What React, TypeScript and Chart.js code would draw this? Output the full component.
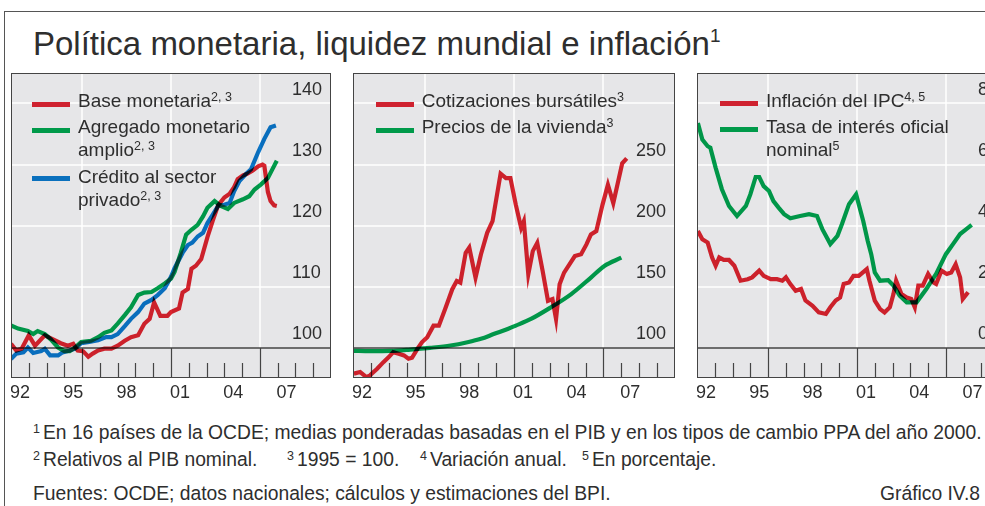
import React, { useEffect, useRef } from 'react';
import { Chart, registerables } from 'chart.js';

Chart.register(...registerables);

const FONT = '"Liberation Sans", Arial, Helvetica, sans-serif';
const TEXT = '#2e2e2e';
const BG = '#e6e6e8';
const DARK = '#444444';

// Panel 1: Base monetaria / Agregado monetario amplio / Crédito al sector privado (% PIB, 1995 = 100)
const baseYears = [1992.0, 1992.3, 1992.6, 1993.0, 1993.35, 1993.9, 1994.25, 1994.8, 1995.2, 1995.5, 1995.75, 1996.05, 1996.35, 1996.6, 1996.9, 1997.25, 1997.65, 1998.0, 1998.4, 1998.75, 1999.15, 1999.5, 1999.8, 2000.05, 2000.4, 2000.8, 2001.0, 2001.45, 2001.65, 2001.95, 2002.15, 2002.4, 2002.7, 2003.05, 2003.35, 2003.65, 2004.0, 2004.3, 2004.55, 2004.75, 2005.05, 2005.3, 2005.6, 2005.9, 2006.15, 2006.25, 2006.45, 2006.6, 2006.8, 2006.95];
const baseValues = [100.6, 99.5, 99.8, 102.0, 100.3, 102.0, 101.5, 100.7, 100.3, 100.6, 99.5, 99.4, 98.5, 99.0, 99.5, 99.8, 99.8, 100.3, 101.1, 101.7, 102.0, 103.9, 104.7, 107.4, 105.2, 105.2, 105.8, 106.4, 109.0, 109.6, 112.9, 113.4, 114.5, 118.1, 120.8, 123.3, 124.6, 125.2, 126.3, 127.6, 128.2, 128.5, 129.0, 129.7, 130.0, 129.8, 125.5, 124.0, 123.3, 123.2];

const broadYears = [1992.0, 1992.4, 1992.95, 1993.25, 1993.5, 1993.9, 1994.25, 1994.65, 1995.0, 1995.3, 1995.6, 1995.95, 1996.5, 1996.9, 1997.25, 1997.65, 1998.0, 1998.4, 1998.75, 1999.15, 1999.5, 1999.9, 2000.25, 2000.65, 2001.0, 2001.2, 2001.55, 2001.85, 2002.15, 2002.5, 2002.8, 2003.05, 2003.45, 2003.8, 2004.2, 2004.55, 2005.05, 2005.4, 2005.7, 2006.05, 2006.45, 2006.7, 2006.95];
const broadValues = [103.6, 103.1, 102.7, 102.2, 102.7, 102.2, 101.3, 100.0, 99.4, 99.4, 100.0, 100.9, 101.1, 101.7, 102.4, 102.8, 103.9, 105.3, 106.6, 108.6, 109.0, 109.1, 109.7, 110.5, 111.3, 112.4, 115.5, 118.5, 119.3, 120.1, 121.5, 122.9, 124.0, 123.2, 122.7, 123.7, 124.3, 124.8, 125.9, 126.7, 127.8, 129.2, 130.6];

const creditYears = [1992.0, 1992.3, 1992.7, 1992.95, 1993.25, 1993.7, 1993.9, 1994.2, 1994.65, 1994.9, 1995.3, 1995.6, 1995.95, 1996.4, 1996.9, 1997.35, 1997.65, 1998.0, 1998.4, 1998.75, 1999.15, 1999.5, 1999.9, 2000.25, 2000.65, 2001.0, 2001.2, 2001.65, 2001.95, 2002.2, 2002.5, 2002.8, 2003.05, 2003.35, 2003.65, 2004.0, 2004.3, 2004.55, 2004.85, 2005.2, 2005.5, 2005.9, 2006.25, 2006.6, 2006.9];
const creditValues = [98.1, 99.0, 99.2, 100.0, 99.1, 99.4, 99.8, 98.7, 98.7, 99.2, 99.5, 99.8, 100.7, 100.9, 101.2, 101.7, 101.7, 102.2, 103.5, 104.7, 105.8, 107.2, 107.8, 108.6, 109.7, 111.6, 113.0, 115.5, 116.8, 117.2, 118.2, 118.8, 120.4, 121.8, 123.2, 123.4, 123.7, 125.6, 127.3, 128.4, 129.2, 132.0, 134.2, 136.1, 136.4];

// Panel 2: Cotizaciones bursátiles / Precios de la vivienda (1995 = 100)
const stockYears = [1992.05, 1992.4, 1992.75, 1992.95, 1993.35, 1993.7, 1994.0, 1994.25, 1994.55, 1994.85, 1995.1, 1995.3, 1995.6, 1995.85, 1996.15, 1996.5, 1996.8, 1997.15, 1997.55, 1997.8, 1998.0, 1998.3, 1998.5, 1998.85, 1999.15, 1999.5, 1999.8, 2000.25, 2000.55, 2000.8, 2001.1, 2001.4, 2001.55, 2001.8, 2002.05, 2002.3, 2002.6, 2002.9, 2003.15, 2003.35, 2003.55, 2003.8, 2004.1, 2004.4, 2004.75, 2005.05, 2005.3, 2005.6, 2005.95, 2006.25, 2006.55, 2006.8, 2007.05, 2007.3];
const stockValues = [78.6, 79.9, 75.8, 77.2, 82.6, 88.0, 92.1, 96.2, 94.9, 93.5, 90.8, 91.6, 98.9, 104.3, 108.4, 117.9, 117.9, 131.5, 147.8, 154.6, 153.2, 177.7, 182.0, 157.3, 176.3, 194.0, 203.5, 242.5, 238.8, 238.8, 217.1, 198.0, 203.5, 160.0, 179.0, 185.8, 162.8, 138.3, 139.7, 123.4, 151.9, 161.4, 168.2, 175.0, 176.4, 184.5, 192.7, 195.4, 217.1, 233.4, 218.4, 234.7, 251.0, 255.1];

const houseYears = [1992.0, 1992.95, 1994.1, 1995.2, 1996.3, 1997.45, 1998.4, 1999.15, 1999.9, 2000.65, 2001.1, 2001.95, 2003.05, 2004.2, 2005.3, 2006.05, 2007.0];
const houseValues = [97.3, 97.0, 97.2, 98.3, 99.7, 101.6, 104.3, 107.1, 111.2, 115.2, 117.9, 123.4, 132.8, 143.8, 157.3, 166.8, 173.6];

// Panel 3: Inflación del IPC / Tasa de interés oficial nominal (%)
const cpiYears = [1992.05, 1992.3, 1992.6, 1992.85, 1993.05, 1993.25, 1993.5, 1993.8, 1994.1, 1994.45, 1994.85, 1995.1, 1995.5, 1995.75, 1996.15, 1996.5, 1996.8, 1997.0, 1997.25, 1997.55, 1997.85, 1998.1, 1998.5, 1998.85, 1999.25, 1999.5, 1999.8, 2000.05, 2000.25, 2000.55, 2000.8, 2001.1, 2001.55, 2001.7, 2002.0, 2002.3, 2002.55, 2002.85, 2003.05, 2003.2, 2003.5, 2003.8, 2004.05, 2004.25, 2004.45, 2004.7, 2005.0, 2005.3, 2005.45, 2005.75, 2006.05, 2006.3, 2006.55, 2006.8, 2006.95, 2007.25];
const cpiValues = [3.82, 3.55, 3.44, 2.95, 2.68, 2.95, 2.87, 2.87, 2.68, 2.19, 2.24, 2.3, 2.52, 2.35, 2.24, 2.24, 2.19, 2.3, 2.08, 1.86, 1.92, 1.54, 1.37, 1.15, 1.1, 1.32, 1.54, 1.64, 2.08, 2.13, 2.35, 2.35, 2.57, 2.19, 1.54, 1.26, 1.15, 1.32, 1.75, 2.19, 1.75, 1.64, 1.59, 1.32, 2.03, 2.03, 2.41, 2.13, 2.08, 2.52, 2.41, 2.46, 2.73, 2.3, 1.59, 1.81];

const rateYears = [1992.05, 1992.3, 1992.6, 1992.75, 1993.05, 1993.4, 1993.8, 1994.25, 1994.75, 1995.0, 1995.3, 1995.5, 1995.75, 1996.05, 1996.3, 1996.6, 1996.9, 1997.25, 1997.8, 1998.3, 1998.75, 1999.05, 1999.5, 1999.9, 2000.15, 2000.55, 2000.95, 2001.35, 2001.6, 2001.8, 2002.0, 2002.3, 2002.75, 2003.05, 2003.4, 2003.8, 2004.35, 2004.9, 2005.45, 2006.0, 2006.4, 2006.8, 2007.15, 2007.45];
const rateValues = [7.36, 6.82, 6.6, 6.55, 5.89, 5.19, 4.64, 4.31, 4.64, 5.02, 5.59, 5.59, 5.29, 5.13, 4.8, 4.58, 4.37, 4.24, 4.31, 4.37, 4.31, 3.88, 3.39, 3.66, 4.04, 4.7, 5.02, 4.15, 3.5, 3.06, 2.46, 2.19, 2.21, 2.03, 1.7, 1.48, 1.48, 1.92, 2.41, 3.06, 3.39, 3.72, 3.88, 4.02];

// Axis ticks / labels
const yearLabelYears = [1992, 1995, 1998, 2001, 2004, 2007];
const yearLabels = ['92', '95', '98', '01', '04', '07'];
const majorTickYears = [1996, 2001, 2006];
const panel1Grid = [110, 120, 130, 140];
const panel1Labels = [100, 110, 120, 130, 140];
const panel2Grid = [150, 200, 250, 300];
const panel2Labels = [100, 150, 200, 250];
const panel3Grid = [2, 4, 6, 8];
const panel3Labels = [0, 2, 4, 6, 8];

// Colours (line colours are slightly lighter: they are multiplied over the grey plot)
const RED_LINE = '#e2242f';
const GREEN_LINE = '#00a64f';
const BLUE_LINE = '#0a7ad0';
const RED = '#cf2230';
const GREEN = '#009a4a';
const BLUE = '#0a70bd';

const pts = (xs: number[], ys: number[]) => xs.map((x, i) => ({ x, y: ys[i] }));

const decorPlugin = {
  id: 'decor',
  beforeDatasetsDraw(chart: any, _args: any, opts: any) {
    const { ctx, chartArea: a, scales } = chart;
    const x = scales.x;
    const y = scales.y;
    ctx.save();
    ctx.fillStyle = BG;
    ctx.fillRect(a.left, a.top, a.right - a.left, a.bottom - a.top);
    const axisY = Math.round(y.getPixelForValue(opts.axis));
    ctx.strokeStyle = '#ffffff';
    ctx.lineWidth = 1.5;
    for (const v of opts.grid) {
      const py = Math.round(y.getPixelForValue(v));
      ctx.beginPath();
      ctx.moveTo(a.left, py);
      ctx.lineTo(a.right, py);
      ctx.stroke();
    }
    for (const yr of majorTickYears) {
      const px = Math.round(x.getPixelForValue(yr));
      ctx.beginPath();
      ctx.moveTo(px, a.top);
      ctx.lineTo(px, axisY);
      ctx.stroke();
    }
    ctx.strokeStyle = DARK;
    ctx.lineWidth = 1.5;
    ctx.beginPath();
    ctx.moveTo(a.left, axisY);
    ctx.lineTo(a.right, axisY);
    ctx.stroke();
    ctx.lineWidth = 1.2;
    for (let yr = 1993; yr <= 2009; yr++) {
      const px = Math.round(x.getPixelForValue(yr)) + 0.5;
      const major = majorTickYears.includes(yr);
      ctx.beginPath();
      ctx.moveTo(px, major ? axisY : a.bottom - 15);
      ctx.lineTo(px, a.bottom);
      ctx.stroke();
    }
    ctx.fillStyle = TEXT;
    ctx.font = `18px ${FONT}`;
    ctx.textAlign = 'left';
    ctx.textBaseline = 'alphabetic';
    for (const v of opts.labels) {
      ctx.fillText(String(v), a.right - 39, y.getPixelForValue(v) - 8.5);
    }
    ctx.textAlign = 'center';
    yearLabelYears.forEach((yr, i) => {
      ctx.fillText(yearLabels[i], x.getPixelForValue(yr + 0.5), a.bottom + 20);
    });
    ctx.restore();
    ctx.save();
    ctx.globalCompositeOperation = 'multiply';
  },
  afterDatasetsDraw(chart: any) {
    const { ctx, chartArea: a } = chart;
    ctx.restore();
    ctx.save();
    ctx.strokeStyle = DARK;
    ctx.lineWidth = 1;
    ctx.strokeRect(a.left + 0.5, a.top + 0.5, a.right - a.left - 1, a.bottom - a.top - 1);
    ctx.restore();
  },
};

type PanelProps = {
  left: number;
  width: number;
  yMin: number;
  yMax: number;
  grid: number[];
  labels: number[];
  axis: number;
  datasets: any[];
};

function Panel({ left, width, yMin, yMax, grid, labels, axis, datasets }: PanelProps) {
  const ref = useRef<HTMLCanvasElement>(null);
  useEffect(() => {
    if (!ref.current) return;
    const chart = new Chart(ref.current, {
      type: 'line',
      data: { datasets },
      options: {
        animation: false,
        responsive: false,
        maintainAspectRatio: false,
        events: [],
        layout: { padding: { left: 0, right: 0, top: 0, bottom: 30 } },
        scales: {
          x: { type: 'linear', min: 1992, max: 2010, display: false },
          y: { type: 'linear', min: yMin, max: yMax, display: false },
        },
        plugins: {
          legend: { display: false },
          tooltip: { enabled: false },
          decor: { grid, labels, axis },
        } as any,
      },
      plugins: [decorPlugin as any],
    });
    return () => chart.destroy();
  }, []);
  return (
    <canvas
      ref={ref}
      width={width}
      height={335}
      style={{ position: 'absolute', left, top: 73, width, height: 335 }}
    />
  );
}

const line = (data: { x: number; y: number }[], color: string, smooth = false) => ({
  data,
  borderColor: color,
  borderWidth: 4.2,
  pointRadius: 0,
  fill: false,
  tension: smooth ? 0.4 : 0,
  cubicInterpolationMode: smooth ? 'monotone' : 'default',
  borderJoinStyle: 'miter',
  borderCapStyle: 'butt',
});

function T({ x, y, fs, children, style }: { x: number; y: number; fs: number; children: any; style?: any }) {
  return (
    <div
      style={{
        position: 'absolute',
        left: x,
        top: y - 0.8465 * fs,
        fontSize: fs,
        lineHeight: `${fs}px`,
        whiteSpace: 'nowrap',
        ...style,
      }}
    >
      {children}
    </div>
  );
}

function S({ children, fs = 12.5, up = 6, gap = 0 }: { children: any; fs?: number; up?: number; gap?: number }) {
  return (
    <span style={{ fontSize: fs, position: 'relative', top: -up, marginRight: gap }}>{children}</span>
  );
}

function Marker({ x, cy, color }: { x: number; cy: number; color: string }) {
  return (
    <div style={{ position: 'absolute', left: x, top: cy - 2.5, width: 38, height: 5, background: color }} />
  );
}

const FN = 19.3;

export default function App() {
  const p1 = [
    line(pts(broadYears, broadValues), GREEN_LINE),
    line(pts(creditYears, creditValues), BLUE_LINE),
    line(pts(baseYears, baseValues), RED_LINE),
  ];
  const p2 = [
    line(pts(houseYears, houseValues), GREEN_LINE, true),
    line(pts(stockYears, stockValues), RED_LINE),
  ];
  const p3 = [
    line(pts(rateYears, rateValues), GREEN_LINE),
    line(pts(cpiYears, cpiValues), RED_LINE),
  ];
  return (
    <div
      style={{
        position: 'fixed',
        left: 0,
        top: 0,
        width: 985,
        height: 506,
        overflow: 'hidden',
        background: '#ffffff',
        fontFamily: FONT,
        color: TEXT,
      }}
    >
      <div
        style={{
          position: 'absolute',
          left: 4,
          top: 11,
          width: 2000,
          height: 2000,
          borderTop: '1px solid #555',
          borderLeft: '1px solid #555',
        }}
      />
      <T x={33} y={55} fs={33}>
        Política monetaria, liquidez mundial e inflación<S fs={19} up={13}>1</S>
      </T>

      <Panel left={11} width={320} yMin={95} yMax={145} grid={panel1Grid} labels={panel1Labels} axis={100} datasets={p1} />
      <Panel left={353} width={322} yMin={75} yMax={325} grid={panel2Grid} labels={panel2Labels} axis={100} datasets={p2} />
      <Panel left={697} width={320} yMin={-1} yMax={9} grid={panel3Grid} labels={panel3Labels} axis={0} datasets={p3} />

      {/* Panel 1 legend */}
      <Marker x={32} cy={104} color={RED} />
      <T x={78} y={106.7} fs={19}>Base monetaria<S>2, 3</S></T>
      <Marker x={32} cy={130} color={GREEN} />
      <T x={78} y={133.3} fs={19}>Agregado monetario</T>
      <T x={78} y={156} fs={19}>amplio<S>2, 3</S></T>
      <Marker x={32} cy={178.5} color={BLUE} />
      <T x={78} y={182.7} fs={19}>Crédito al sector</T>
      <T x={78} y={206.5} fs={19}>privado<S>2, 3</S></T>

      {/* Panel 2 legend */}
      <Marker x={376} cy={104} color={RED} />
      <T x={421.7} y={106.7} fs={19}>Cotizaciones bursátiles<S>3</S></T>
      <Marker x={376} cy={130} color={GREEN} />
      <T x={421.7} y={132.7} fs={19}>Precios de la vivienda<S>3</S></T>

      {/* Panel 3 legend */}
      <Marker x={720} cy={103.5} color={RED} />
      <T x={766} y={106.7} fs={19}>Inflación del IPC<S>4, 5</S></T>
      <Marker x={720} cy={129.5} color={GREEN} />
      <T x={766} y={132.7} fs={19}>Tasa de interés oficial</T>
      <T x={766} y={156} fs={19}>nominal<S>5</S></T>

      {/* Footnotes */}
      <T x={33} y={439} fs={FN}>
        <S gap={3}>1</S>En 16 países de la OCDE; medias ponderadas basadas en el PIB y en los tipos de cambio PPA del año 2000.
      </T>
      <T x={33} y={466} fs={FN}><S gap={3}>2</S>Relativos al PIB nominal.</T>
      <T x={287} y={466} fs={FN}><S gap={3}>3</S>1995 = 100.</T>
      <T x={420} y={466} fs={FN}><S gap={3}>4</S>Variación anual.</T>
      <T x={582} y={466} fs={FN}><S gap={3}>5</S>En porcentaje.</T>
      <T x={33} y={500} fs={FN}>Fuentes: OCDE; datos nacionales; cálculos y estimaciones del BPI.</T>
      <T x={880} y={500} fs={FN}>Gráfico IV.8</T>
    </div>
  );
}
